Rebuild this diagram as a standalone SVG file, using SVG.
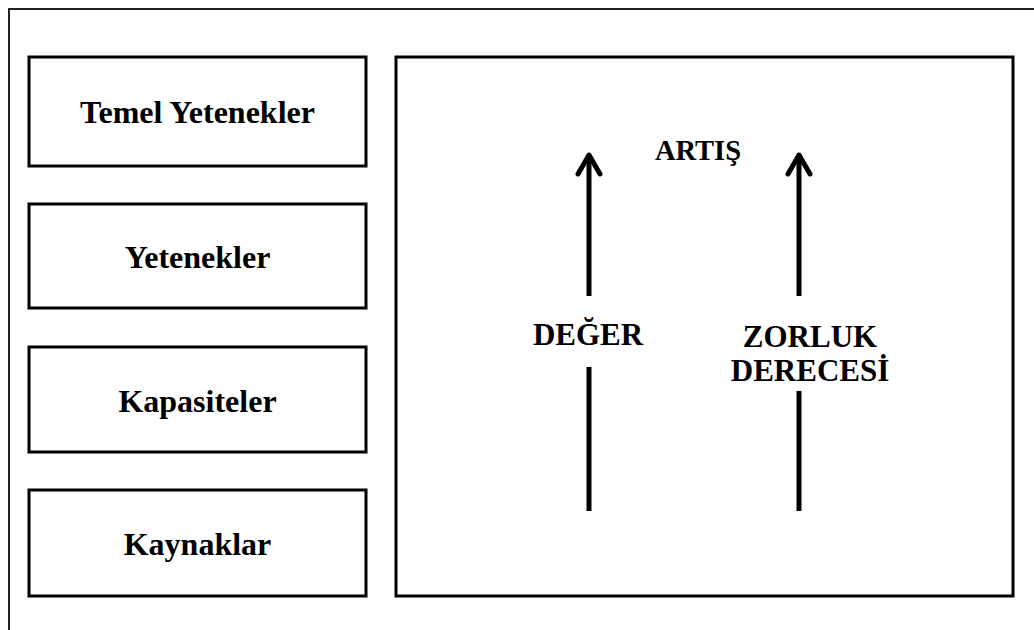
<svg xmlns="http://www.w3.org/2000/svg" width="1034" height="630" viewBox="0 0 1034 630">
  <style>
    .box { fill: #ffffff; stroke: #000000; stroke-width: 3; }
    .frame { fill: none; stroke: #222222; stroke-width: 2; }
    .lbl { font-family: "Liberation Serif", "Times New Roman", serif; font-weight: bold; font-size: 31px; fill: #000000; text-anchor: middle; }
    .lvl { font-size: 32px; }
    .top { font-size: 28.5px; }
    .shaft { stroke: #000000; stroke-width: 5; fill: none; }
    .head { stroke: #000000; stroke-width: 5; fill: none; stroke-linecap: round; stroke-linejoin: round; }
  </style>
  <rect width="1034" height="630" fill="#ffffff"/>

  <!-- page frame (runs off the right and bottom edges) -->
  <path class="frame" d="M9,630 V9 H1034"/>

  <!-- left column of levels -->
  <g id="temel-yetenekler">
    <rect class="box" x="29" y="57" width="337" height="109"/>
    <text class="lbl lvl" x="197.5" y="123">Temel Yetenekler</text>
  </g>
  <g id="yetenekler">
    <rect class="box" x="29" y="204" width="337" height="104"/>
    <text class="lbl lvl" x="197.5" y="268">Yetenekler</text>
  </g>
  <g id="kapasiteler">
    <rect class="box" x="29" y="347" width="337" height="105"/>
    <text class="lbl lvl" x="197.5" y="411.5">Kapasiteler</text>
  </g>
  <g id="kaynaklar">
    <rect class="box" x="29" y="490" width="337" height="106"/>
    <text class="lbl lvl" x="197.5" y="555">Kaynaklar</text>
  </g>

  <!-- right panel -->
  <g id="panel">
    <rect class="box" x="396" y="57" width="617" height="539"/>
    <text class="lbl top" x="698" y="160">ARTIŞ</text>
    <text class="lbl" x="588" y="345">DEĞER</text>
    <text class="lbl" x="810" y="347">ZORLUK</text>
    <text class="lbl" x="810" y="381">DERECESİ</text>
  </g>

  <!-- upward arrows -->
  <g id="connectors">
    <line class="shaft" x1="589" y1="156" x2="589" y2="296"/>
    <polyline class="head" points="578,174 589,155 600,174"/>
    <line class="shaft" x1="589" y1="367" x2="589" y2="511"/>

    <line class="shaft" x1="799" y1="156" x2="799" y2="296"/>
    <polyline class="head" points="788,174 799,155 810,174"/>
    <line class="shaft" x1="799" y1="391" x2="799" y2="511"/>
  </g>
</svg>
